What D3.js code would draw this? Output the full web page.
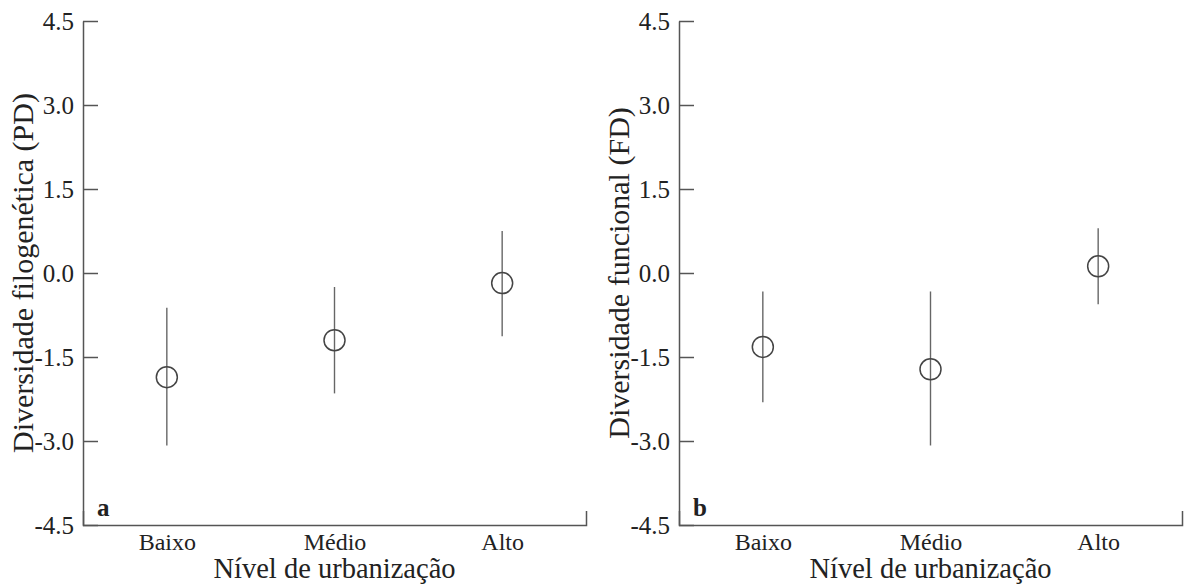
<!DOCTYPE html>
<html>
<head>
<meta charset="utf-8">
<script src="https://cdn.jsdelivr.net/npm/d3@7"></script>
<style>
    body { margin: 0; background: #fff; }
</style>
</head>
<body>
<svg id="chart" width="1184" height="584"></svg>
<script>
// Data
const categories = ['Baixo', 'Médio', 'Alto'];
const yTicks = [-4.5, -3.0, -1.5, 0.0, 1.5, 3.0, 4.5];

// (a) phylogenetic diversity
const pdMean = [-1.86, -1.20, -0.18];
const pdLower = [-3.08, -2.15, -1.13];
const pdUpper = [-0.62, -0.25, 0.75];

// (b) functional diversity
const fdMean = [-1.32, -1.72, 0.12];
const fdLower = [-2.31, -3.08, -0.56];
const fdUpper = [-0.33, -0.33, 0.80];

const serif = '"Liberation Serif", "Times New Roman", Times';

const svg = d3.select('#chart');
const plotTop = 21, plotBottom = 525, plotWidth = 503;

const yScale = d3.scaleLinear()
    .domain([-4.5, 4.5])
    .range([plotBottom, plotTop]);

function drawPanel(left, mean, lower, upper, yTitle, letter) {
    const g = svg.append('g').attr('transform', `translate(${left},0)`);

    const xScale = d3.scalePoint()
        .domain(categories)
        .range([0, plotWidth])
        .padding(0.5);

    // Y axis with inward ticks
    const yAxis = g.append('g')
        .call(d3.axisLeft(yScale)
            .tickValues(yTicks)
            .tickSizeInner(-15)
            .tickSizeOuter(0)
            .tickPadding(9)
            .tickFormat(d => d.toFixed(1)));
    yAxis.attr('font-family', null).attr('font-size', null);
    yAxis.selectAll('path, line').attr('stroke', '#555').attr('stroke-width', 1.5);
    yAxis.selectAll('text')
        .style('font-family', serif)
        .style('font-size', '25px')
        .attr('fill', '#222');

    // X axis, small upward tick at the right end
    const xAxis = g.append('g')
        .attr('transform', `translate(0,${plotBottom})`)
        .call(d3.axisBottom(xScale)
            .tickSizeInner(0)
            .tickSizeOuter(-14)
            .tickPadding(8));
    xAxis.attr('font-family', null).attr('font-size', null);
    xAxis.selectAll('path').attr('stroke', '#555').attr('stroke-width', 1.5);
    xAxis.selectAll('text')
        .style('font-family', serif)
        .style('font-size', '24px')
        .attr('fill', '#222');

    // Axis titles
    g.append('text')
        .attr('transform', 'rotate(-90)')
        .attr('x', -(plotTop + plotBottom) / 2)
        .attr('y', -50)
        .attr('text-anchor', 'middle')
        .attr('fill', '#222')
        .style('font-family', serif)
        .style('font-size', '30px')
        .text(yTitle);

    g.append('text')
        .attr('x', plotWidth / 2)
        .attr('y', 578)
        .attr('text-anchor', 'middle')
        .attr('fill', '#222')
        .style('font-family', serif)
        .style('font-size', '28.5px')
        .text('Nível de urbanização');

    // Panel letter
    g.append('text')
        .attr('x', 14)
        .attr('y', 516)
        .attr('fill', '#222')
        .style('font-family', serif)
        .style('font-size', '25px')
        .style('font-weight', 'bold')
        .text(letter);

    // Error bars
    g.selectAll('.bar')
        .data(categories)
        .enter()
        .append('line')
        .attr('class', 'bar')
        .attr('x1', d => xScale(d))
        .attr('x2', d => xScale(d))
        .attr('y1', (d, i) => yScale(lower[i]))
        .attr('y2', (d, i) => yScale(upper[i]))
        .attr('stroke', '#666')
        .attr('stroke-width', 1.4);

    // Means
    g.selectAll('.dot')
        .data(categories)
        .enter()
        .append('circle')
        .attr('class', 'dot')
        .attr('cx', d => xScale(d))
        .attr('cy', (d, i) => yScale(mean[i]))
        .attr('r', 10.5)
        .attr('fill', 'none')
        .attr('stroke', '#444')
        .attr('stroke-width', 1.5);
}

drawPanel(83, pdMean, pdLower, pdUpper, 'Diversidade filogenética (PD)', 'a');
drawPanel(679, fdMean, fdLower, fdUpper, 'Diversidade funcional (FD)', 'b');
</script>
</body>
</html>
